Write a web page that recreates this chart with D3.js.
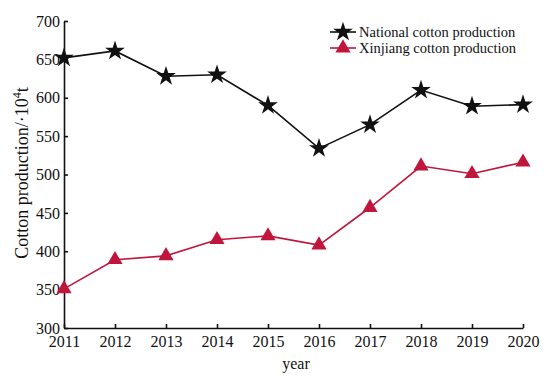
<!DOCTYPE html>
<html><head><meta charset="utf-8">
<script src="https://cdn.jsdelivr.net/npm/d3@7"></script>
<style>body{margin:0;background:#fff}svg{display:block}text{font-family:"Liberation Serif","Times New Roman",serif;fill:#111}</style>
</head><body>
<svg id="c" width="550" height="377"></svg>
<script>
const years = [2011,2012,2013,2014,2015,2016,2017,2018,2019,2020];
const national = [652,661,628,630,590,534,565,610,589,591];
const xinjiang = [351,389,394,415,420,408,457,511,501,516];
const yTicks = [300,350,400,450,500,550,600,650,700];
const seriesNames = ["National cotton production","Xinjiang cotton production"];

const svg = d3.select("#c");
const m = {l:64, r:27, t:21, b:49};
const W = 550, H = 377;
const x = d3.scaleLinear().domain([2011,2020]).range([m.l, W-m.r]);
const y = d3.scaleLinear().domain([300,700]).range([H-m.b, m.t]);
const red = "#c0163c";

const gx = svg.append("g").attr("transform",`translate(0,${H-m.b})`)
  .call(d3.axisBottom(x).tickValues(years).tickFormat(d3.format("d")).tickSizeInner(-4).tickSizeOuter(0).tickPadding(8));
const gy = svg.append("g").attr("transform",`translate(${m.l},0)`)
  .call(d3.axisLeft(y).tickValues(yTicks).tickSizeInner(-4).tickSizeOuter(0).tickPadding(4));
[gx,gy].forEach(g=>{
  g.selectAll("path,line").attr("stroke","#111").attr("stroke-width",1.6);
  g.selectAll("text").attr("font-size",16).attr("font-family","Liberation Serif").attr("fill","#111");
});

const line = d3.line().x((d,i)=>x(years[i])).y(d=>y(d));
svg.append("path").datum(national).attr("d",line).attr("fill","none").attr("stroke","#111").attr("stroke-width",1.6);
svg.append("path").datum(xinjiang).attr("d",line).attr("fill","none").attr("stroke",red).attr("stroke-width",1.6);

const star = d3.symbol().type(d3.symbolStar).size(120);
const tri = d3.symbol().type(d3.symbolTriangle).size(100);
svg.selectAll(".s").data(national).enter().append("path")
  .attr("d",star).attr("transform",(d,i)=>`translate(${x(years[i])},${y(d)})`).attr("fill","#111");
svg.selectAll(".t").data(xinjiang).enter().append("path")
  .attr("d",tri).attr("transform",(d,i)=>`translate(${x(years[i])},${y(d)})`).attr("fill",red);

// legend
const lg = svg.append("g");
[[0,"#111",star],[1,red,tri]].forEach(([i,c,sym])=>{
  const yy = 32 + i*16;
  lg.append("line").attr("x1",330).attr("x2",356).attr("y1",yy).attr("y2",yy).attr("stroke",c).attr("stroke-width",1.6);
  lg.append("path").attr("d",sym).attr("transform",`translate(343,${yy})`).attr("fill",c);
  lg.append("text").attr("x",359).attr("y",yy+5).attr("font-size",14.5).text(seriesNames[i]);
});

svg.append("text").attr("x",296).attr("y",369).attr("text-anchor","middle").attr("font-size",16).text("year");
const yt = svg.append("text").attr("transform","translate(28,173) rotate(-90)").attr("text-anchor","middle").attr("font-size",18);
yt.append("tspan").text("Cotton production/·10");
yt.append("tspan").attr("dy",-7).attr("font-size",12).text("4");
yt.append("tspan").attr("dy",7).text("t");
</script>
</body></html>
